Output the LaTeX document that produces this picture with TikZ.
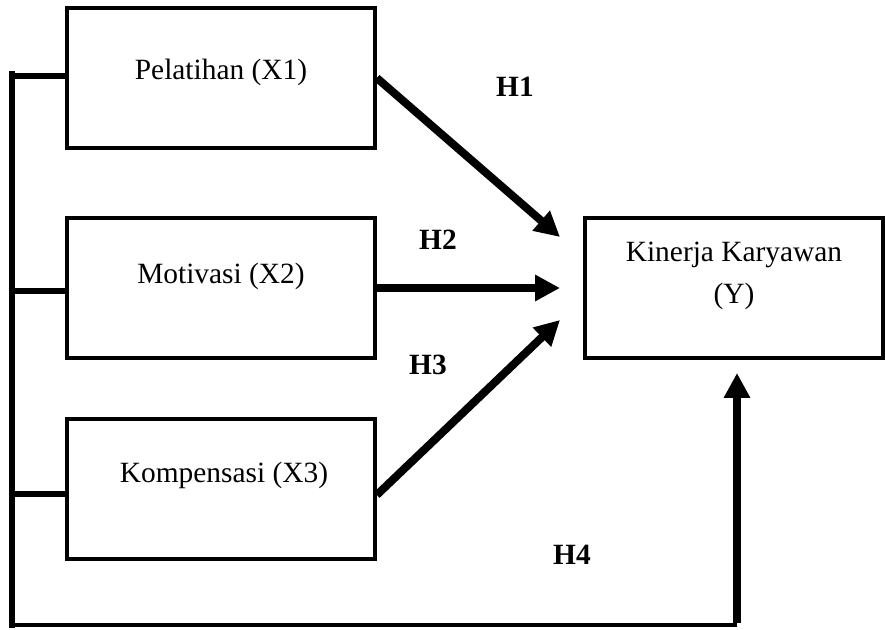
\documentclass[tikz,border=0pt]{standalone}
\usepackage{fontspec}
\setmainfont{Liberation Serif}
\usetikzlibrary{arrows.meta}

\begin{document}
\begin{tikzpicture}[x=0.5pt, y=-0.5pt,
  every node/.style={font=\fontsize{14.7}{17}\selectfont},
  varbox/.style={draw, line width=1.8pt, minimum width=154pt, minimum height=70pt, inner sep=0pt},
  hyp/.style={font=\fontsize{14.7}{17}\selectfont\bfseries},
  path/.style={line width=4pt, -{Triangle[length=12.5pt,width=12.5pt]}},
  bus/.style={line width=3.2pt}]
\useasboundingbox (0,0) rectangle (885,630);

\node[varbox, label={[yshift=3pt]center:Pelatihan (X1)}] (x1) at (221,78) {};
\node[varbox, label={[yshift=6pt]center:Motivasi (X2)}] (x2) at (221,288) {};
\node[varbox, label={[yshift=7pt, xshift=1.5pt]center:Kompensasi (X3)}] (x3) at (221,489) {};
\node[varbox, minimum width=149pt,
  label={[yshift=6pt, align=center, font=\fontsize{14.7}{21}\selectfont]center:Kinerja Karyawan\\(Y)}] (y) at (734,288) {};

\node[hyp] (h1) at (515,87) {H1};
\node[hyp] (h2) at (438,240) {H2};
\node[hyp] (h3) at (428,365) {H3};
\node[hyp] (h4) at (572,555) {H4};

\coordinate (t1) at (560,237);
\coordinate (t2) at (560,288);
\coordinate (t3) at (560,320);
\coordinate (t4) at (737,373);

\coordinate (b1) at (12,76);
\coordinate (b2) at (12,291);
\coordinate (b3) at (12,494);
\coordinate (bend) at (12,625);
\coordinate (corner) at (737,625);

% hypotheses
\draw[path] (x1.east) -- (t1);
\draw[path] (x2.east) -- (t2);
\draw[path] ([yshift=-3pt]x3.east) -- (t3);

% simultaneous path
\draw[bus] (x1.west |- b1) -- (b1);
\draw[bus] (x2.west |- b2) -- (b2);
\draw[bus] (x3.west |- b3) -- (b3);
\draw[bus, line cap=rect] ([yshift=0.8pt]b1) -- (bend);
\draw[line width=2pt] (bend) -- (corner);
\draw[path, line width=3.6pt] ([yshift=1pt]corner) -- (t4);
\end{tikzpicture}
\end{document}
